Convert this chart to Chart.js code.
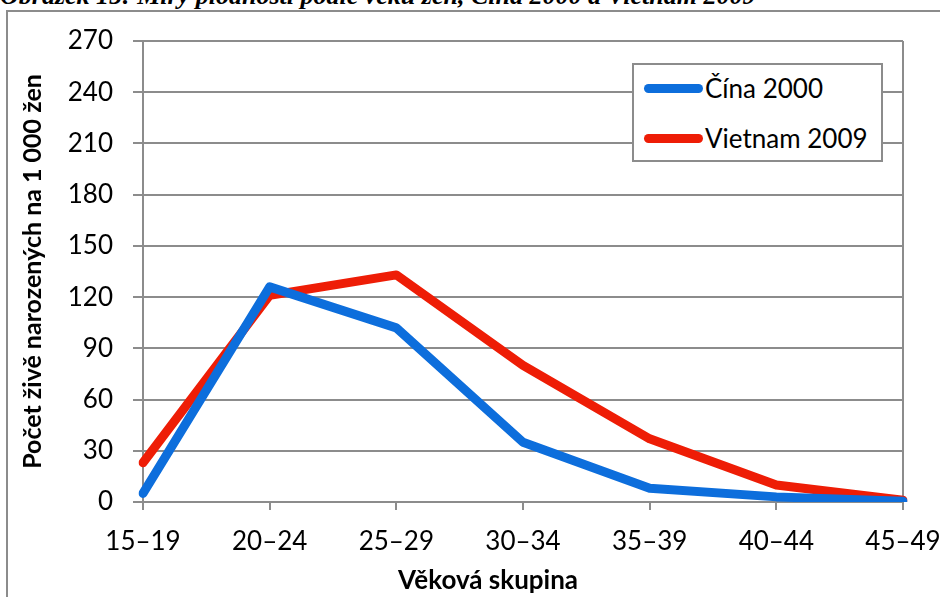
<!DOCTYPE html>
<html>
<head>
<meta charset="utf-8">
<script src="https://cdn.jsdelivr.net/npm/chart.js@4/dist/chart.umd.min.js"></script>
<style>
  html, body { margin: 0; padding: 0; background: #fff; overflow: hidden; }
  #wrap { position: relative; width: 940px; height: 597px; overflow: hidden; }
  #title {
    position: absolute; left: 0; top: -17px; white-space: nowrap;
    font: italic bold 26px "Liberation Serif", serif; line-height: 26px; color: #000;
  }
  #frame {
    position: absolute; left: 6px; top: 10px; width: 960px; height: 600px;
    border-left: 2px solid #8c8c8c; border-top: 2px solid #8c8c8c;
  }
  canvas { position: absolute; left: 0; top: 0; }
  #xtitle {
    position: absolute; left: 488px; top: 563px; transform: translateX(-50%);
    font: bold 26px Lato, sans-serif; white-space: nowrap;
  }
  #legend {
    position: absolute; left: 632px; top: 63px; width: 247px; height: 95px;
    border: 2px solid #8c8c8c; background: #fff;
  }
  .item { position: absolute; left: 10px; height: 30px; display: flex; align-items: center;
    font: 26px Lato, sans-serif; white-space: nowrap; }
  .swatch { width: 59px; height: 9px; border-radius: 4.5px; margin-right: 2px; }
</style>
</head>
<body>
<div id="wrap">
  <div id="title">Obrázek 15: Míry plodnosti podle věku žen, Čína 2000 a Vietnam 2009</div>
  <div id="frame"></div>
  <canvas id="graf" width="980" height="597"></canvas>
  <div id="xtitle">Věková skupina</div>
  <div id="legend"></div>
</div>
<script>
const vekoveSkupiny = ['15–19', '20–24', '25–29', '30–34', '35–39', '40–44', '45–49'];
const cina2000 = [5, 126, 102, 35, 8, 3, 0.5];
const vietnam2009 = [23, 121, 133, 80, 37, 10, 1];
const yTicks = [0, 30, 60, 90, 120, 150, 180, 210, 240, 270];

const seda = '#8c8c8c';

const graf = new Chart(document.getElementById('graf').getContext('2d'), {
    type: 'line',
    data: {
        labels: vekoveSkupiny,
        datasets: [{
            label: 'Čína 2000',
            data: cina2000,
            borderColor: '#0d6edc',
            borderWidth: 9,
            pointRadius: 0,
            borderJoinStyle: 'round',
            borderCapStyle: 'round',
            tension: 0
        }, {
            label: 'Vietnam 2009',
            data: vietnam2009,
            borderColor: '#ee1d06',
            borderWidth: 9,
            pointRadius: 0,
            borderJoinStyle: 'round',
            borderCapStyle: 'round',
            tension: 0
        }]
    },
    options: {
        responsive: false,
        animation: false,
        // canvas is a bit wider than the page, the last label gets cut like in the original
        layout: { padding: { left: 0, right: 77, top: 41, bottom: 0 } },
        plugins: {
            legend: { display: false },
            tooltip: { enabled: false }
        },
        scales: {
            x: {
                offset: false,
                grid: {
                    color: c => c.index === vekoveSkupiny.length - 1 ? seda : 'transparent',
                    tickColor: seda,
                    tickLength: 8,
                    lineWidth: 2
                },
                border: { color: seda, width: 2 },
                ticks: {
                    color: '#000',
                    font: { family: 'Lato', size: 26 },
                    padding: 16,
                    maxRotation: 0,
                    autoSkip: false
                },
                afterFit: s => { s.height = 95; }
            },
            y: {
                min: 0,
                max: 270,
                afterBuildTicks: s => { s.ticks = yTicks.map(v => ({ value: v })); },
                grid: { color: seda, tickColor: seda, tickLength: 10, lineWidth: 2 },
                border: { color: seda, width: 2 },
                ticks: {
                    color: '#000',
                    font: { family: 'Lato', size: 26 },
                    padding: 20
                },
                title: {
                    display: true,
                    text: 'Počet živě narozených na 1 000 žen',
                    color: '#000',
                    font: { family: 'Lato', size: 25, weight: 'bold', lineHeight: 1.2 },
                    padding: { top: 18 }
                },
                afterFit: s => { s.width = 143; }
            }
        }
    }
});

const legenda = document.getElementById('legend');
graf.data.datasets.forEach((ds, i) => {
    const item = document.createElement('div');
    item.className = 'item';
    item.style.top = (8 + i * 50) + 'px';
    const sw = document.createElement('span');
    sw.className = 'swatch';
    sw.style.background = ds.borderColor;
    item.appendChild(sw);
    item.appendChild(document.createTextNode(ds.label));
    legenda.appendChild(item);
});
</script>
</body>
</html>
